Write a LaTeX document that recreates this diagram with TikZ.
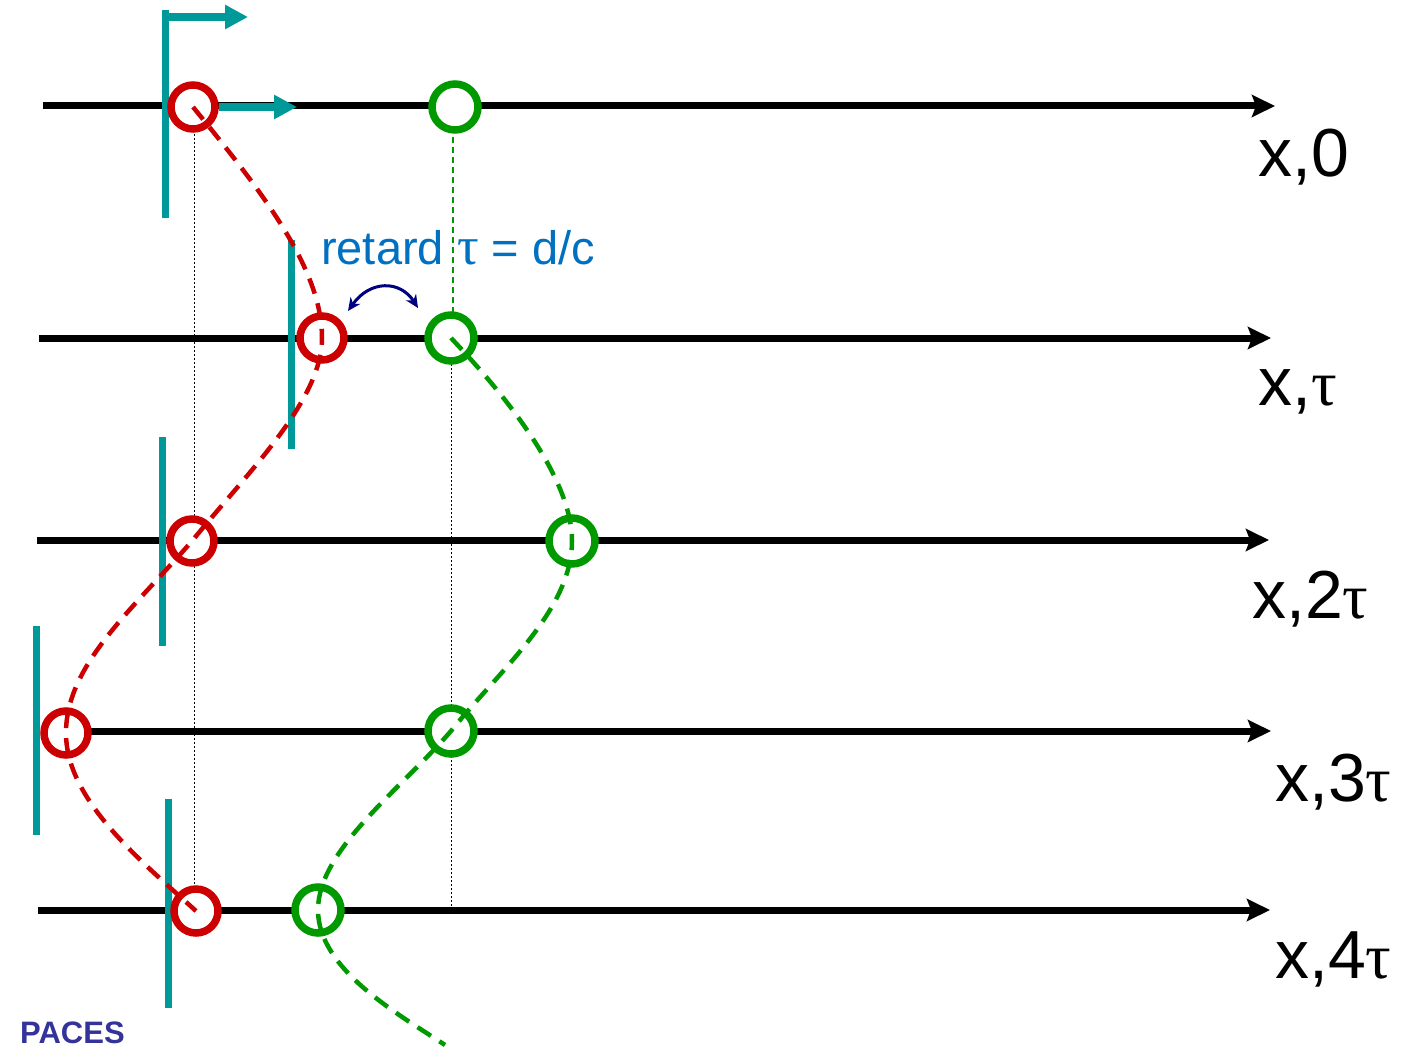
\documentclass[tikz,border=0pt]{standalone}
\usepackage{fontspec}
\setmainfont{Liberation Sans}
\newfontfamily\serifgr{Liberation Serif}
\usetikzlibrary{arrows.meta}
\definecolor{teal1}{HTML}{009999}
\definecolor{red1}{HTML}{CC0000}
\definecolor{green1}{HTML}{009900}
\definecolor{blue1}{HTML}{0070C0}
\definecolor{navy1}{HTML}{000080}
\definecolor{paces}{HTML}{333399}
\newcommand{\tauG}{{\serifgr\fontsize{64}{64}\selectfont τ}}
\newcommand{\tauS}{{\serifgr\fontsize{54}{54}\selectfont τ}}
\tikzset{
  axis/.style={line width=7pt, -{Stealth[length=23pt,width=22pt,inset=4pt]}},
  bar/.style={teal1, line width=7pt},
  tarrow/.style={teal1, line width=7.5pt, -{Triangle[length=23pt,width=23pt]}},
  redc/.style={circle, draw=red1, line width=7.5pt, fill=white, minimum size=44pt, inner sep=0pt},
  greenc/.style={circle, draw=green1, line width=7.5pt, fill=white, minimum size=46pt, inner sep=0pt},
  redcurve/.style={red1, line width=4.5pt, dash pattern=on 16pt off 10pt},
  greencurve/.style={green1, line width=4.5pt, dash pattern=on 16pt off 10pt},
  guide/.style={black, line width=1pt, dash pattern=on 2pt off 2pt},
  gguide/.style={green1, line width=2pt, dash pattern=on 6pt off 4pt},
  lbl/.style={anchor=base west, inner sep=0pt, font=\fontsize{68}{80}\selectfont},
}
\begin{document}
\begin{tikzpicture}[x=1pt,y=-1pt]
\useasboundingbox (0,0) rectangle (1402,1051);
% axis end points
\coordinate (a0s) at (43,106);  \coordinate (a0e) at (1275,106);
\coordinate (a1s) at (39,338);  \coordinate (a1e) at (1271,338);
\coordinate (a2s) at (37,540);  \coordinate (a2e) at (1269,540);
\coordinate (a3s) at (66,731);  \coordinate (a3e) at (1271,731);
\coordinate (a4s) at (38,910);  \coordinate (a4e) at (1270,910);
\foreach \i in {0,...,4} \draw[axis] (a\i s) -- (a\i e);
% guide lines
\coordinate (d1t) at (194,130); \coordinate (d1b) at (194,908);
\coordinate (d2t) at (451,360); \coordinate (d2b) at (451,908);
\draw[guide] (d1t) -- (d1b);
\draw[guide] (d2t) -- (d2b);
\coordinate (gvt) at (453,107); \coordinate (gvb) at (453,338);
\draw[gguide] (gvt) -- (gvb);
% teal bars
\coordinate (b0t) at (165,10);  \coordinate (b0b) at (165,218);
\coordinate (b1t) at (291,240); \coordinate (b1b) at (291,449);
\coordinate (b2t) at (162,437); \coordinate (b2b) at (162,646);
\coordinate (b3t) at (36,626);  \coordinate (b3b) at (36,835);
\coordinate (b4t) at (168,799); \coordinate (b4b) at (168,1008);
\foreach \i in {0,...,4} \draw[bar] (b\i t) -- (b\i b);
% circles
\node[redc] (r0) at (193,107) {};
\node[redc] (r1) at (322,338) {};
\node[redc] (r2) at (192,541) {};
\node[redc] (r3) at (66,733) {};
\node[redc] (r4) at (196,911) {};
\node[greenc] (g0) at (455,107) {};
\node[greenc] (g1) at (451,338) {};
\node[greenc] (g2) at (572,541) {};
\node[greenc] (g3) at (451,731) {};
\node[greenc] (g4) at (318,910) {};
\coordinate (gend) at (445,1045);
% red dashed curve
\draw[redcurve] (r0.center) .. controls (265,195) and (322,270) .. (r1.center)
  .. controls (322,400) and (250,470) .. (r2.center)
  .. controls (132,610) and (66,665) .. (r3.center)
  .. controls (66,800) and (140,860) .. (r4.center);
% green dashed curve
\draw[greencurve] (g1.center) .. controls (510,400) and (572,480) .. (g2.center)
  .. controls (572,610) and (500,670) .. (g3.center)
  .. controls (400,790) and (318,850) .. (g4.center)
  .. controls (318,970) and (400,1015) .. (gend);
% teal arrows
\coordinate (ta0) at (169,17); \coordinate (ta1) at (248,17);
\draw[tarrow] (ta0) -- (ta1);
\coordinate (tb1) at (297,107);
\draw[tarrow] (r0.east) -- (tb1);
% navy double arrow
\coordinate (n0) at (348,311); \coordinate (n1) at (418,308);
\draw[navy1, line width=3pt, {Stealth[length=13pt,width=12pt]}-{Stealth[length=13pt,width=12pt]}]
  (n0) .. controls (370,280) and (400,280) .. (n1);
% texts
\node[anchor=base west, inner sep=0pt, text=blue1, font=\fontsize{47}{55}\selectfont] (ret) at (321,264) {retard \tauS{} = d/c};
\node[lbl] (l0) at (1258,177) {x,0};
\node[lbl] (l1) at (1258,405) {x,\tauG};
\node[lbl] (l2) at (1252,618) {x,2\tauG};
\node[lbl] (l3) at (1275,801) {x,3\tauG};
\node[lbl] (l4) at (1275,978) {x,4\tauG};
\node[anchor=base west, inner sep=0pt, text=paces, font=\fontsize{31}{36}\selectfont\bfseries] (pc) at (20,1043) {PACES};
\end{tikzpicture}
\end{document}
